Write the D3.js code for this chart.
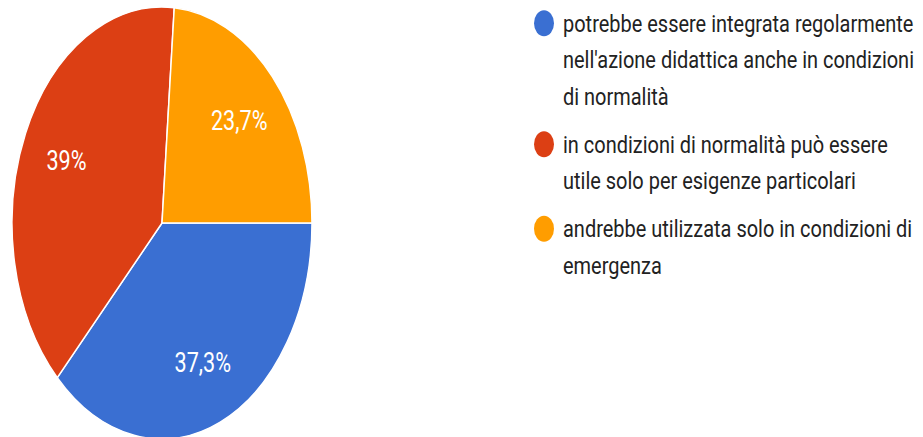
<!DOCTYPE html>
<html>
<head>
<meta charset="utf-8">
<script src="https://cdn.jsdelivr.net/npm/d3@7"></script>
<style>
html,body{margin:0;padding:0;background:#fff;}
svg{display:block;}
</style>
</head>
<body>
<svg id="chart" width="923" height="437"></svg>
<script>
const categories = [
  "potrebbe essere integrata regolarmente nell'azione didattica anche in condizioni di normalità",
  "in condizioni di normalità può essere utile solo per esigenze particolari",
  "andrebbe utilizzata solo in condizioni di emergenza"
];
const legendLines = [
  ["potrebbe essere integrata regolarmente", "nell'azione didattica anche in condizioni", "di normalità"],
  ["in condizioni di normalità può essere", "utile solo per esigenze particolari"],
  ["andrebbe utilizzata solo in condizioni di", "emergenza"]
];
const values = [37.3, 39, 23.7];
const valueLabels = ["37,3%", "39%", "23,7%"];
const colors = ["#3a6fd2", "#dc3f14", "#ff9d00"];

const svg = d3.select("#chart");
const cx = 162, cy = 223, rx = 150, ry = 216;
const R = ry, sx = rx / ry;

const pie = d3.pie().sort(null).value(d => d)
  .startAngle(Math.PI / 2).endAngle(Math.PI / 2 + 2 * Math.PI);
const arcs = pie(values);
const arc = d3.arc().innerRadius(0).outerRadius(R);
const labelArc = d3.arc().innerRadius(R * 0.4).outerRadius(R);

const g = svg.append("g").attr("transform", `translate(${cx},${cy}) scale(${sx},1)`);
g.selectAll("path").data(arcs).enter().append("path")
  .attr("d", arc)
  .attr("fill", (d, i) => colors[i])
  .attr("stroke", "#fff")
  .attr("stroke-width", 1.5)
  .attr("vector-effect", "non-scaling-stroke");

const labelScale = 0.8;
const lg = svg.append("g").attr("transform", `translate(${cx},${cy})`);
arcs.forEach((d, i) => {
  const c = labelArc.centroid(d);
  lg.append("text")
    .attr("transform", `translate(${c[0] * sx},${c[1] + 9.5}) scale(${labelScale},1)`)
    .attr("text-anchor", "middle")
    .attr("font-family", "Roboto, 'Liberation Sans', Arial, sans-serif")
    .attr("font-size", 27)
    .attr("fill", "#fff")
    .text(valueLabels[i]);
});

// legend
const legX = 563, dotX = 544;
const lineH = 36.5, itemGap = 48;
const legScale = 0.85;
const leg = svg.append("g");
let y = 31.7;
legendLines.forEach((lines, i) => {
  leg.append("ellipse")
    .attr("cx", dotX).attr("cy", y - 8.5)
    .attr("rx", 10).attr("ry", 13)
    .attr("fill", colors[i]);
  lines.forEach((t, j) => {
    leg.append("text")
      .attr("class", "legtext")
      .attr("transform", `translate(${legX},${y + j * lineH}) scale(${legScale},1)`)
      .attr("font-family", "Roboto, 'Liberation Sans', Arial, sans-serif")
      .attr("font-size", 23.5)
      .attr("fill", "#222222")
      .text(t);
  });
  y += (lines.length - 1) * lineH + itemGap;
});
</script>
</body>
</html>
